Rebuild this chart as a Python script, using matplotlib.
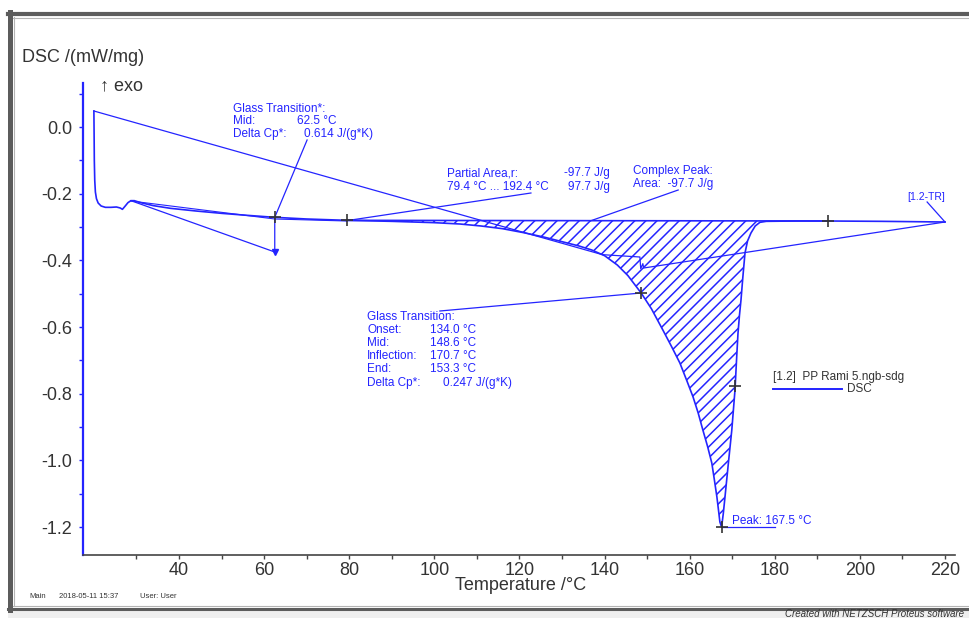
import numpy as np
import matplotlib.pyplot as plt
from matplotlib.lines import Line2D
from matplotlib.patches import Rectangle
from matplotlib.ticker import MultipleLocator, FixedLocator

plt.rcParams['font.family'] = ['Liberation Sans', 'DejaVu Sans']
plt.rcParams['hatch.linewidth'] = 1.1

BLUE = '#2424ff'
GREY = '#333333'

# DSC curve, temperature (°C) and heat flow (mW/mg)
temperature = [20.0, 20.05, 20.1, 20.2, 20.35, 20.6, 21.0, 21.7, 22.7, 24.0, 25.3, 26.2,
               26.7, 27.3, 28.0, 28.7, 29.5, 31.0, 34.0, 38.0, 44.0, 50.0, 56.0, 62.5,
               70.0, 79.4, 90.0, 100.0, 106.0, 111.0, 116.0, 121.0, 126.0, 130.0, 134.0,
               137.0, 140.0, 143.0, 145.5, 148.6, 151.0, 153.7, 155.8, 157.7, 159.3,
               160.8, 162.0, 163.1, 164.2, 165.2, 165.8, 166.4, 166.8, 167.1, 167.5,
               167.9, 168.3, 169.1, 169.9, 170.65, 171.05, 171.35, 171.7, 172.06, 172.5,
               173.0, 173.6, 174.4, 175.4, 176.5, 178.0, 185.0, 192.4, 205.0, 220.0]
dsc = [0.048, -0.02, -0.10, -0.16, -0.195, -0.215, -0.228, -0.237, -0.241, -0.241, -0.240,
       -0.243, -0.247, -0.238, -0.227, -0.221, -0.221, -0.227, -0.236, -0.244, -0.252,
       -0.259, -0.265, -0.271, -0.276, -0.280, -0.283, -0.287, -0.291, -0.297, -0.305,
       -0.317, -0.331, -0.344, -0.357, -0.369, -0.386, -0.414, -0.446, -0.498, -0.545,
       -0.609, -0.660, -0.708, -0.760, -0.810, -0.858, -0.909, -0.958, -1.008, -1.058,
       -1.110, -1.152, -1.185, -1.200, -1.160, -1.110, -1.008, -0.909, -0.789, -0.690,
       -0.620, -0.565, -0.519, -0.450, -0.378, -0.342, -0.318, -0.297, -0.286, -0.283,
       -0.282, -0.282, -0.283, -0.285]

# evaluation results
area_limits = [79.4, 192.4]
tg1_mid = 62.5
tg2_mid = 148.6
tg2_inflection = 170.7
peak_temp = 167.5

# construction lines of the evaluation
virtual_x = [20.0, 139.5, 148.3, 148.5, 149.0, 149.2, 220.0]
virtual_y = [0.048, -0.383, -0.390, -0.425, -0.410, -0.423, -0.285]
tg1_x = [28.7, 62.5, 62.5]
tg1_y = [-0.221, -0.375, -0.271]
tg1_tangent_x = [28.7, 62.5, 79.4]
tg1_tangent_y = [-0.222, -0.276, -0.282]

W, H = 970, 618
fig = plt.figure(figsize=(W / 100, H / 100), dpi=100)
ax = fig.add_axes([83 / W, 1 - 555 / H, (955 - 83) / W, (555 - 83) / H])

temperature = np.array(temperature)
dsc = np.array(dsc)
ax.plot(temperature, dsc, color=BLUE, lw=1.2, zorder=3)

# partial area with hatch
base_y = np.interp(area_limits, temperature, dsc)
inside = (temperature > area_limits[0]) & (temperature < area_limits[1])
poly_x = np.concatenate([[area_limits[0]], temperature[inside], [area_limits[1]]])
poly_y = np.concatenate([[base_y[0]], dsc[inside], [base_y[1]]])
ax.fill(poly_x, poly_y, facecolor='none', edgecolor=BLUE, lw=0, hatch='///', zorder=2)
ax.plot(area_limits, base_y, color=BLUE, lw=1.2, zorder=3)

ax.plot(virtual_x, virtual_y, color=BLUE, lw=0.9)
ax.plot(tg1_x, tg1_y, color=BLUE, lw=0.9)
ax.plot(tg1_tangent_x, tg1_tangent_y, color=BLUE, lw=0.8)
ax.plot(tg1_x[1], tg1_y[1], marker='v', ms=4, color=BLUE)

# cross marks
for t in [tg1_mid, area_limits[0], area_limits[1], tg2_mid, tg2_inflection, peak_temp]:
    ax.plot(t, np.interp(t, temperature, dsc) if t != peak_temp else dsc.min(),
            marker='+', ms=9, mew=1.2, color=GREY, zorder=5)

# leader lines
leaders = [
    ((tg1_mid, -0.271), (70.1, -0.039)),
    ((area_limits[0], -0.281), (122.7, -0.198)),
    ((136.6, -0.282), (157.3, -0.189)),
    ((tg2_mid, -0.498), (101.3, -0.552)),
    ((peak_temp, -1.199), (180.05, -1.199)),
    ((220.0, -0.285), (215.8, -0.225)),
]
for (x0, y0), (x1, y1) in leaders:
    ax.plot([x0, x1], [y0, y1], color=BLUE, lw=0.9)

fs = 8.5
def label(x, y, s):
    ax.text(x, y, s, color=BLUE, fontsize=fs, va='center', ha='left')

label(52.7, 0.054, 'Glass Transition*:')
label(52.7, 0.018, 'Mid:')
label(67.7, 0.018, '62.5 °C')
label(52.7, -0.022, 'Delta Cp*:')
label(69.4, -0.022, '0.614 J/(g*K)')

label(102.9, -0.138, 'Partial Area,r:')
label(130.4, -0.138, '-97.7 J/g')
label(102.9, -0.181, '79.4 °C ... 192.4 °C')
label(131.4, -0.181, '97.7 J/g')

label(146.6, -0.132, 'Complex Peak:')
label(146.6, -0.171, 'Area:  -97.7 J/g')

gt_rows = ['Glass Transition:', 'Onset:', 'Mid:', 'Inflection:', 'End:', 'Delta Cp*:']
gt_vals = ['', '134.0 °C', '148.6 °C', '170.7 °C', '153.3 °C', '0.247 J/(g*K)']
for i, (name, val) in enumerate(zip(gt_rows, gt_vals)):
    y = -0.569 - 0.0396 * i
    label(84.2, y, name)
    if val:
        label(102.1 if 'J' in val else 99.0, y, val)

label(169.95, -1.181, 'Peak: 167.5 °C')
ax.text(215.5, -0.21, '[1.2-TR]', color=BLUE, fontsize=7.5, va='center', ha='center')

# axes styling
ax.set_xlim(17.44, 222.35)
ax.set_ylim(-1.284, 0.132)
ax.set_xticks([40, 60, 80, 100, 120, 140, 160, 180, 200, 220])
ax.xaxis.set_minor_locator(FixedLocator([30, 50, 70, 90, 110, 130, 150, 170, 190, 210]))
ax.yaxis.set_minor_locator(MultipleLocator(0.1))
ax.set_yticks(np.round(np.arange(0.0, -1.21, -0.2), 1))
ax.set_yticklabels(['0.0', '-0.2', '-0.4', '-0.6', '-0.8', '-1.0', '-1.2'])
ax.spines['top'].set_visible(False)
ax.spines['right'].set_visible(False)
ax.spines['left'].set_color(BLUE)
ax.spines['left'].set_linewidth(1.6)
ax.spines['bottom'].set_color('#444444')
ax.spines['bottom'].set_linewidth(1.2)
ax.tick_params(axis='x', which='both', length=3, width=1, color='#444444',
               labelsize=13, labelcolor=GREY, pad=2)
ax.tick_params(axis='y', which='both', length=3, width=1, color=BLUE,
               labelsize=13, labelcolor=GREY, pad=5)
ax.patch.set_alpha(0)

def fx(px):
    return px / W

def fy(py):
    return 1 - py / H

fig.text(fx(22), fy(57), 'DSC /(mW/mg)', fontsize=13, color=GREY, va='center')
fig.text(fx(100), fy(86), '↑ exo', fontsize=13, color=GREY, va='center')
fig.text(fx(521), fy(586), 'Temperature /°C', fontsize=13, color=GREY, va='center', ha='center')

# legend
fig.text(fx(773), fy(377), '[1.2]  PP Rami 5.ngb-sdg', fontsize=8.5, color=GREY, va='center')
fig.add_artist(Line2D([fx(773), fx(842)], [fy(389), fy(389)], color=BLUE, lw=1.4))
fig.text(fx(847), fy(389), 'DSC', fontsize=8.5, color=GREY, va='center')

# footer
fig.text(fx(29), fy(597), 'Main', fontsize=5.5, color=GREY, va='center')
fig.text(fx(59), fy(597), '2018-05-11 15:37', fontsize=5.5, color=GREY, va='center')
fig.text(fx(140), fy(597), 'User: User', fontsize=5.5, color=GREY, va='center')

# window frame
fig.add_artist(Rectangle((fx(8), fy(618)), 1, 10 / H, transform=fig.transFigure,
                         facecolor='#efefef', edgecolor='none'))
fig.text(fx(785), fy(614), 'Created with NETZSCH Proteus software', fontsize=7,
         style='italic', color=GREY, va='center')
fig.add_artist(Line2D([fx(8), 1], [fy(14), fy(14)], color='#5c5c5c', lw=3))
fig.add_artist(Line2D([fx(13), 1], [fy(17.5), fy(17.5)], color='#b4b4b4', lw=0.8))
fig.add_artist(Line2D([fx(10.5), fx(10.5)], [fy(12), fy(610)], color='#5c5c5c', lw=3.6))
fig.add_artist(Line2D([fx(14), fx(14)], [fy(17), fy(606)], color='#b4b4b4', lw=0.8))
fig.add_artist(Line2D([fx(8), 1], [fy(608.5), fy(608.5)], color='#5c5c5c', lw=2.2))
fig.add_artist(Line2D([fx(13), 1], [fy(605.5), fy(605.5)], color='#b4b4b4', lw=0.8))

fig.savefig('out.png', dpi=100)
